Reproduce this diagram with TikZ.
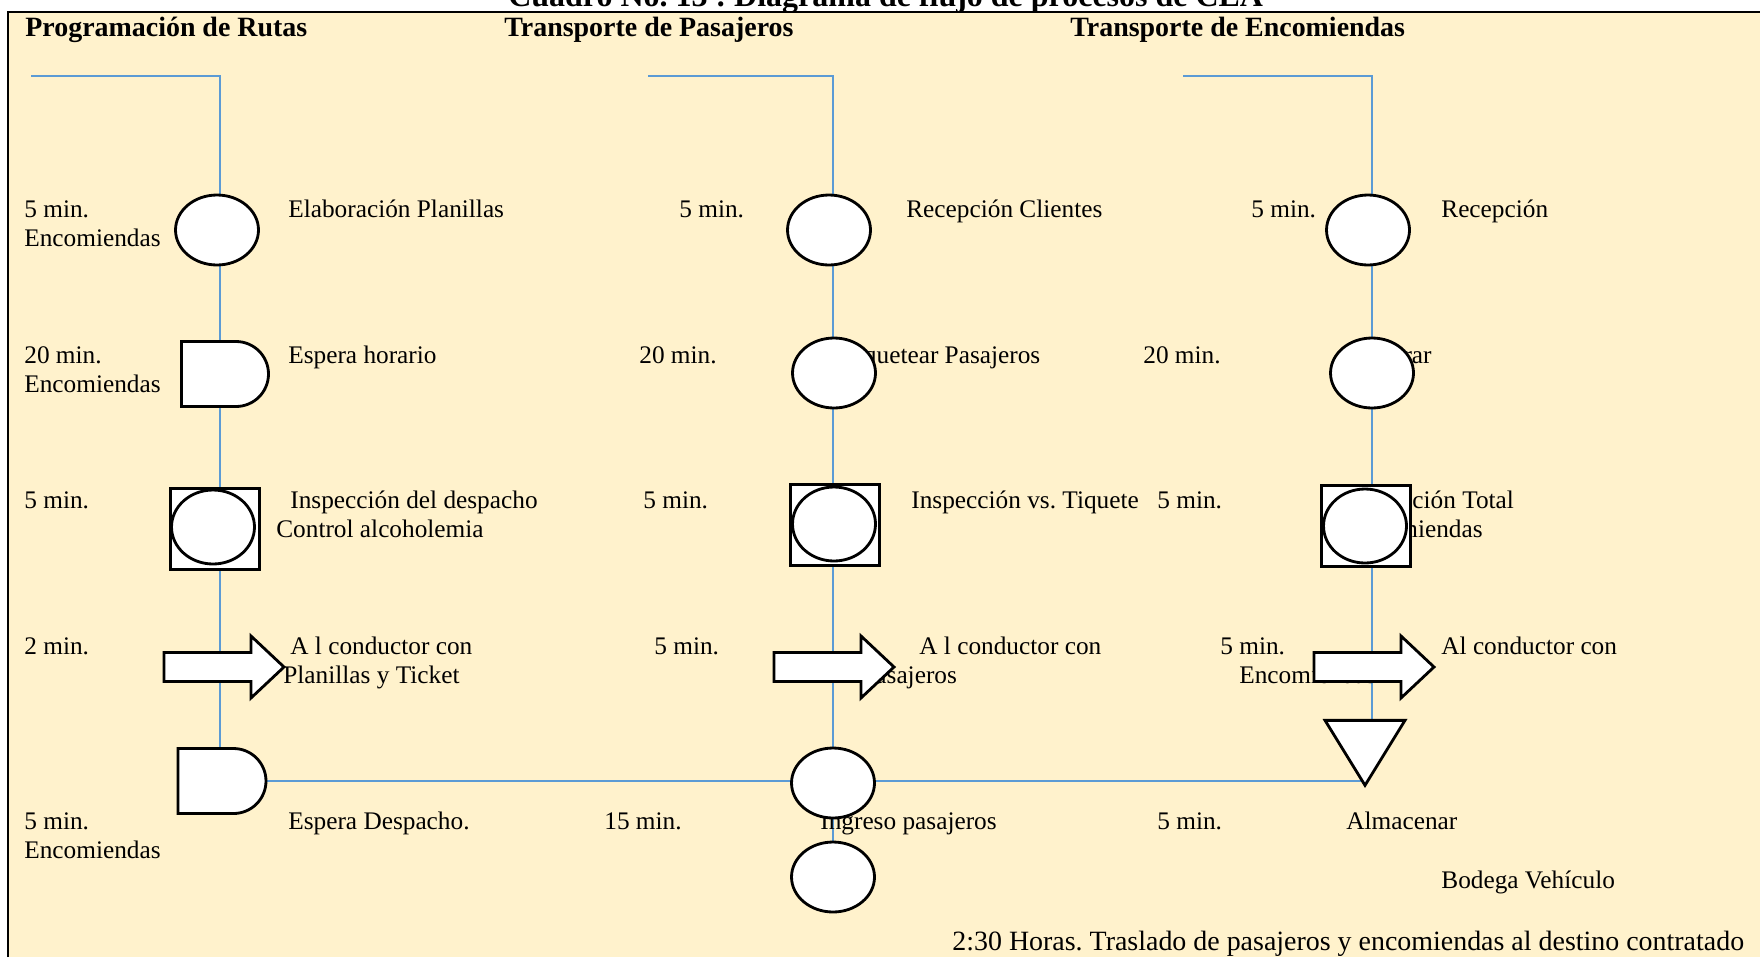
\documentclass[tikz,border=0pt]{standalone}
\usepackage{fontspec}
\setmainfont{Liberation Serif}
\usetikzlibrary{shapes.geometric,shapes.misc,backgrounds}
\frenchspacing

\definecolor{papel}{HTML}{FFF2CC}
\definecolor{azulcarril}{HTML}{5B9BD5}
\newcommand{\cuerpo}{\fontsize{14.4}{16.5}\selectfont}
\newcommand{\cabecera}{\fontsize{15.9}{18}\selectfont\bfseries}

\tikzset{
  simb/.style={draw=black, line width=1.6pt, fill=white, inner sep=0pt},
  oper/.style={simb, ellipse, minimum width=1.66cm, minimum height=1.4cm},
  insp/.style={simb, rectangle, minimum width=1.78cm, minimum height=1.62cm},
  demora/.style={simb, rounded rectangle, rounded rectangle left arc=none,
    minimum width=1.74cm, minimum height=1.3cm},
  almac/.style={simb, isosceles triangle, isosceles triangle stretches,
    shape border rotate=-90, minimum width=1.6cm, minimum height=1.3cm},
  carril/.style={draw=azulcarril, line width=0.85pt},
  txt/.style={anchor=base west, inner sep=0pt, align=left, font=\cuerpo},
  cab/.style={anchor=base west, inner sep=0pt, font=\cabecera},
  transp/.pic={
    \draw[simb] (-60,-14.5) -- (27,-14.5) -- (27,-31) -- (60,0)
      -- (27,31) -- (27,14.5) -- (-60,14.5) -- cycle;
  }
}

\begin{document}
\begin{tikzpicture}[x=0.02cm, y=-0.02cm]
  \useasboundingbox (0,0) rectangle (1760,957);

  % Programacion de Rutas
  \node[oper] (pr1) at (217,230) {};
  \node[demora] (pr2) at (225,374) {};
  \node[insp] (pr3) at (215,529) {};
  \node[oper, minimum height=1.48cm] (pr3c) at (213,527) {};
  \pic (pr4) at (224,667) {transp};
  \node[demora, minimum width=1.76cm] (pr5) at (222,781) {};

  % Transporte de Pasajeros
  \node[oper] (tp1) at (829,230) {};
  \node[oper] (tp2) at (834,373) {};
  \node[insp] (tp3) at (835,525) {};
  \node[oper, minimum height=1.48cm] (tp3c) at (834,524) {};
  \pic (tp4) at (834,667) {transp};
  \node[oper] (tp5) at (833,783) {};
  \node[oper] (tp6) at (833,877) {};

  % Transporte de Encomiendas
  \node[oper] (te1) at (1368,230) {};
  \node[oper] (te2) at (1372,373) {};
  \node[insp] (te3) at (1366,526) {};
  \node[oper, minimum height=1.48cm] (te3c) at (1365,526) {};
  \pic (te4) at (1374,667) {transp};
  \node[almac, anchor=apex] (te5) at (1365,789) {};

  \begin{scope}[on background layer]
    % hoja
    \fill[papel] (8,12) rectangle (1760,957);
    \draw[line width=1.7pt] (8,957) -- (8,12) -- (1760,12);
    \begin{scope}
      \clip (0,0) rectangle (1760,11);
      \node[anchor=base west, inner sep=0pt, font=\fontsize{18.2}{20}\selectfont\bfseries]
        (cuadro) at (508,6) {Cuadro No. 13 : Diagrama de flujo de procesos de CEA};
    \end{scope}

    % lineas de flujo
    \coordinate (pr0) at (31,76);
    \coordinate (prT) at (220,76);
    \draw[carril] (pr0) -- (prT) -- (prT |- pr5.north);
    \coordinate (tp0) at (648,76);
    \coordinate (tpT) at (833,76);
    \draw[carril] (tp0) -- (tpT) -- (tpT |- tp6.north);
    \coordinate (te0) at (1183,76);
    \coordinate (teT) at (1372,76);
    \draw[carril] (te0) -- (teT) -- (teT |- te5.north);
    \draw[carril] (pr5.east) -- (pr5.east -| te5.apex);

    % cabeceras
    \node[cab] (h1) at (25,36) {Programación de Rutas};
    \node[cab] (h2) at (504,36) {Transporte de Pasajeros};
    \node[cab] (h3) at (1070,36) {Transporte de Encomiendas};

    % fila 1
    \node[txt] at (24,246) {5 min.\\Encomiendas};
    \node[txt] at (288,217) {Elaboración Planillas};
    \node[txt] at (679,217) {5 min.};
    \node[txt] at (906,217) {Recepción Clientes};
    \node[txt] at (1251,217) {5 min.};
    \node[txt] at (1441,217) {Recepción};

    % fila 2
    \node[txt] at (24,392) {20 min.\\Encomiendas};
    \node[txt] at (288,363) {Espera horario};
    \node[txt] at (639,363) {20 min.};
    \node[txt] at (842,363) {Tiquetear Pasajeros};
    \node[txt] at (1143,363) {20 min.};
    \node[txt] at (1361,363) {Cobrar};

    % fila 3
    \node[txt] at (24,508) {5 min.};
    \node[txt] at (276,537) {\hspace*{0.28cm}Inspección del despacho\\Control alcoholemia};
    \node[txt] at (643,508) {5 min.};
    \node[txt] at (911,508) {Inspección vs. Tiquete};
    \node[txt] at (1157,508) {5 min.};
    \node[txt] at (1346,537) {Inspección Total\\Encomiendas};

    % fila 4
    \node[txt] at (24,654) {2 min.};
    \node[txt] at (283,683) {\hspace*{0.14cm}A l conductor con\\Planillas y Ticket};
    \node[txt] at (654,654) {5 min.};
    \node[txt] at (861,683) {\hspace*{1.16cm}A l conductor con\\Pasajeros};
    \node[txt] at (1220,683) {5 min.\\\hspace*{0.38cm}Encomiendas};
    \node[txt] at (1441,654) {Al conductor con};

    % fila 5
    \node[txt] at (24,858) {5 min.\\Encomiendas};
    \node[txt] at (288,829) {Espera Despacho.};
    \node[txt] at (604,829) {15 min.};
    \node[txt] at (820,829) {Ingreso pasajeros};
    \node[txt] at (1157,829) {5 min.};
    \node[txt] at (1346,829) {Almacenar};
    \node[txt] at (1441,888) {Bodega Vehículo};
    \node[txt, font=\fontsize{15.9}{18}\selectfont] at (952,950)
      {2:30 Horas. Traslado de pasajeros y encomiendas al destino contratado};
  \end{scope}
\end{tikzpicture}
\end{document}
